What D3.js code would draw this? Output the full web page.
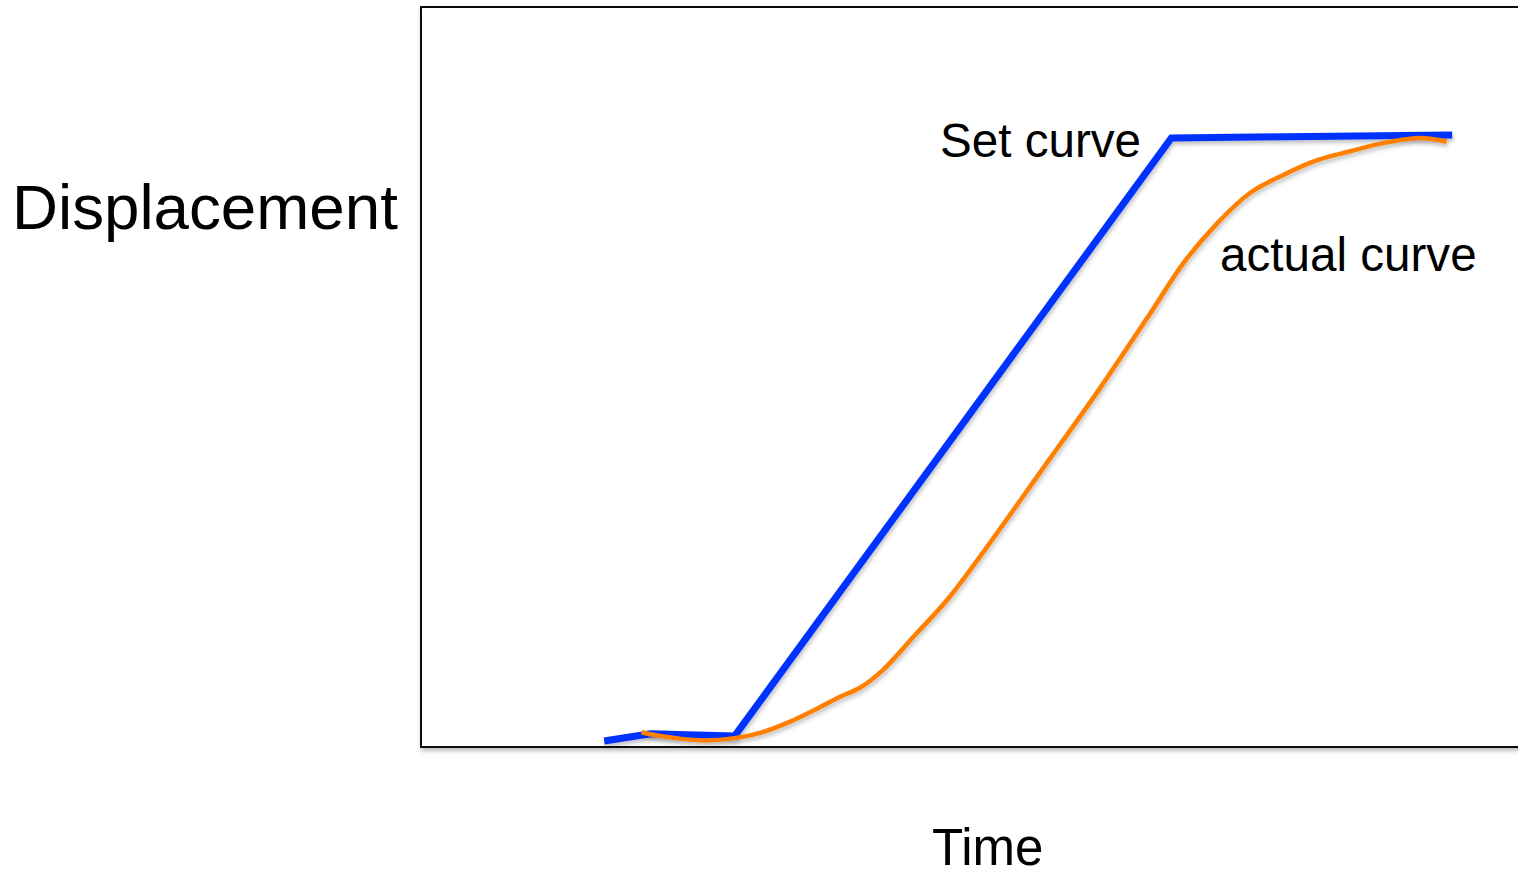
<!DOCTYPE html>
<html><head><meta charset="utf-8">
<script src="https://cdn.jsdelivr.net/npm/d3@7"></script>
<style>body{margin:0;background:#fff;overflow:hidden}svg{display:block}</style>
</head><body>
<svg id="c" width="1518" height="871"></svg>
<script>
// Data (time, displacement) in arbitrary units 0-100
const setTime = [16.7, 20.9, 28.6, 68.4, 94.0];
const setDisp = [0.8, 1.8, 1.5, 82.3, 82.7];
const actTime = [20.1, 21.8, 25.4, 28.6, 30.9, 33.6, 36.4, 38.2, 40.0, 42.1, 45.2, 48.2, 57.3, 61.9, 66.7, 69.5, 72.6, 75.6, 78.6, 81.7, 84.7, 87.7, 91.1, 93.5];
const actDisp = [2.0, 1.5, 0.9, 1.2, 1.9, 3.4, 5.4, 6.8, 8.0, 10.4, 15.4, 20.3, 38.9, 48.5, 59.1, 65.4, 70.8, 74.9, 77.3, 79.3, 80.5, 81.6, 82.3, 81.8];
const labels = {y: "Displacement", x: "Time", set: "Set curve", act: "actual curve"};

const svg = d3.select("#c");
const x = d3.scaleLinear().domain([0, 100]).range([421, 1518]);
const y = d3.scaleLinear().domain([0, 100]).range([747, 7]);

const defs = svg.append("defs");
const f = defs.append("filter").attr("id", "sh").attr("x", "-5%").attr("y", "-5%").attr("width", "110%").attr("height", "120%");
f.append("feDropShadow").attr("dx", 1).attr("dy", 3).attr("stdDeviation", 2).attr("flood-color", "#000").attr("flood-opacity", 0.25);

// plot frame
svg.append("rect").attr("x", x(0)).attr("y", y(100)).attr("width", 1200).attr("height", y(0) - y(100))
  .attr("fill", "#fff").attr("stroke", "#111").attr("stroke-width", 2).attr("filter", "url(#sh)");

const setPts = setTime.map((t, i) => [t, setDisp[i]]);
const actPts = actTime.map((t, i) => [t, actDisp[i]]);

svg.append("path").datum(setPts)
  .attr("d", d3.line().x(d => x(d[0])).y(d => y(d[1])))
  .attr("fill", "none").attr("stroke", "#0433ff").attr("stroke-width", 7)
  .attr("stroke-linejoin", "miter").attr("filter", "url(#sh)");

svg.append("path").datum(actPts)
  .attr("d", d3.line().x(d => x(d[0])).y(d => y(d[1])).curve(d3.curveCatmullRom.alpha(0.5)))
  .attr("fill", "none").attr("stroke", "#ff8000").attr("stroke-width", 4.5)
  .attr("filter", "url(#sh)");

const font = "'Liberation Sans', Arial, Helvetica, sans-serif";
svg.append("text").attr("x", 12).attr("y", 229).attr("font-family", font).attr("font-size", 63.7).attr("fill", "#000").text(labels.y);
svg.append("text").attr("x", 932).attr("y", 865).attr("font-family", font).attr("font-size", 51).attr("fill", "#000").text(labels.x);
svg.append("text").attr("x", 940).attr("y", 157).attr("font-family", font).attr("font-size", 47.6).attr("fill", "#000").text(labels.set);
svg.append("text").attr("x", 1220).attr("y", 271).attr("font-family", font).attr("font-size", 47.6).attr("fill", "#000").text(labels.act);
</script>
</body></html>
